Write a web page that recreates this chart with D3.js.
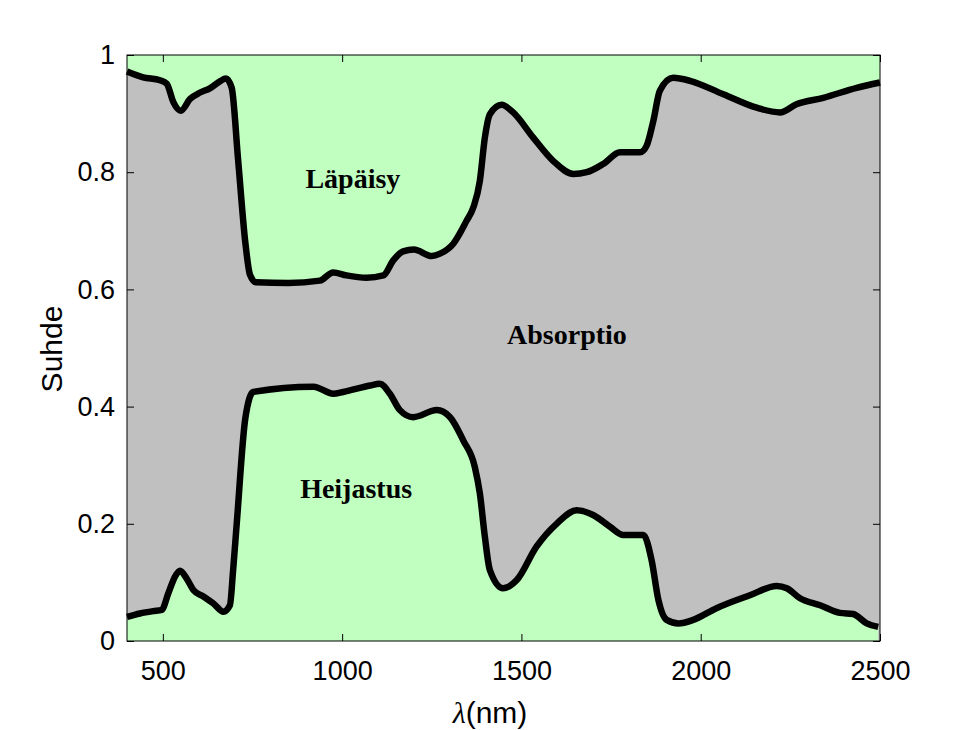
<!DOCTYPE html>
<html>
<head>
<meta charset="utf-8">
<script src="https://cdn.jsdelivr.net/npm/d3@7"></script>
<style>
  body { margin: 0; background: #fff; }
  svg text { fill: #000; }
</style>
</head>
<body>
<svg id="chart" width="973" height="730"></svg>
<script>
// upper boundary of the absorption band (1 - transmittance)
var upperNm  = [400, 445, 492, 511, 529, 550, 576, 604, 631, 659, 676, 692, 710, 730, 743, 760, 850, 938, 975, 1012, 1068, 1115, 1143, 1170, 1200, 1250, 1273, 1310, 1347, 1366, 1384, 1398, 1412, 1445, 1477, 1533, 1589, 1645, 1682, 1728, 1775, 1831, 1849, 1868, 1886, 1923, 1970, 2063, 2156, 2221, 2267, 2342, 2435, 2500];
var upperVal = [0.972, 0.962, 0.957, 0.951, 0.92, 0.905, 0.925, 0.936, 0.943, 0.955, 0.96, 0.944, 0.82, 0.68, 0.625, 0.612, 0.611, 0.615, 0.629, 0.624, 0.62, 0.624, 0.65, 0.665, 0.668, 0.657, 0.661, 0.678, 0.717, 0.74, 0.785, 0.859, 0.899, 0.915, 0.902, 0.859, 0.819, 0.797, 0.8, 0.814, 0.834, 0.834, 0.845, 0.888, 0.939, 0.961, 0.956, 0.933, 0.91, 0.902, 0.916, 0.927, 0.944, 0.953];

// reflectance
var lowerNm  = [400, 436, 473, 497, 515, 534, 548, 566, 585, 613, 641, 669, 687, 696, 706, 730, 752, 920, 975, 1003, 1078, 1105, 1133, 1161, 1198, 1264, 1301, 1338, 1370, 1384, 1398, 1412, 1449, 1487, 1542, 1598, 1654, 1700, 1747, 1784, 1840, 1863, 1882, 1905, 1938, 1979, 2044, 2137, 2212, 2240, 2277, 2333, 2388, 2425, 2463, 2495];
var lowerVal = [0.041, 0.047, 0.051, 0.053, 0.081, 0.11, 0.12, 0.107, 0.087, 0.076, 0.064, 0.05, 0.061, 0.121, 0.2, 0.38, 0.425, 0.434, 0.422, 0.425, 0.436, 0.439, 0.422, 0.394, 0.382, 0.394, 0.382, 0.342, 0.297, 0.252, 0.178, 0.121, 0.09, 0.104, 0.161, 0.2, 0.223, 0.215, 0.195, 0.181, 0.181, 0.138, 0.07, 0.036, 0.03, 0.036, 0.056, 0.078, 0.094, 0.09, 0.073, 0.061, 0.048, 0.046, 0.03, 0.024];

var xTicks = [500, 1000, 1500, 2000, 2500];
var yTicks = [0, 0.2, 0.4, 0.6, 0.8, 1];
var regionLabels = ["Läpäisy", "Absorptio", "Heijastus"];
var regionNm  = [1030, 1627, 1039];
var regionVal = [0.773, 0.506, 0.244];

var mLeft = 127, mTop = 55, mRight = 880, mBottom = 641;
var svg = d3.select("#chart");

var x = d3.scaleLinear().domain([400, 2500]).range([mLeft, mRight]);
var y = d3.scaleLinear().domain([0, 1]).range([mBottom, mTop]);

var upper = upperNm.map(function(n, i) { return [n, upperVal[i]]; });
var lower = lowerNm.map(function(n, i) { return [n, lowerVal[i]]; });

var curve = d3.curveMonotoneX;

svg.append("clipPath").attr("id", "plotclip")
  .append("rect").attr("x", mLeft).attr("y", mTop).attr("width", mRight-mLeft).attr("height", mBottom-mTop);

var g = svg.append("g").attr("clip-path", "url(#plotclip)");

// grey everywhere, then green above transmission line and below reflectance line
g.append("rect").attr("x", mLeft).attr("y", mTop).attr("width", mRight-mLeft).attr("height", mBottom-mTop)
  .attr("fill", "#c0c0c0");

g.append("path").datum(upper)
  .attr("fill", "#c0ffc0")
  .attr("d", d3.area().curve(curve).x(function(d) { return x(d[0]); }).y0(y(1)).y1(function(d) { return y(d[1]); }));
g.append("path").datum(lower)
  .attr("fill", "#c0ffc0")
  .attr("d", d3.area().curve(curve).x(function(d) { return x(d[0]); }).y0(y(0)).y1(function(d) { return y(d[1]); }));

var line = d3.line().curve(curve).x(function(d) { return x(d[0]); }).y(function(d) { return y(d[1]); });
[upper, lower].forEach(function(data) {
  svg.append("path").datum(data)
    .attr("fill", "none").attr("stroke", "#000").attr("stroke-width", 6.5)
    .attr("stroke-linejoin", "round")
    .attr("d", line);
});

// frame
svg.append("rect").attr("x", mLeft).attr("y", mTop).attr("width", mRight-mLeft).attr("height", mBottom-mTop)
  .attr("fill", "none").attr("stroke", "#000").attr("stroke-width", 1);

// axes, ticks pointing inward on all four sides
var tickFont = "Liberation Sans, Arial, sans-serif";
var xAxis = svg.append("g").attr("transform", "translate(0," + mBottom + ")")
  .call(d3.axisBottom(x).tickValues(xTicks).tickSizeInner(-7).tickSizeOuter(0).tickPadding(20).tickFormat(d3.format("d")));
var xTop = svg.append("g").attr("transform", "translate(0," + mTop + ")")
  .call(d3.axisTop(x).tickValues(xTicks).tickSizeInner(-7).tickSizeOuter(0).tickFormat(""));
var yAxis = svg.append("g").attr("transform", "translate(" + mLeft + ",0)")
  .call(d3.axisLeft(y).tickValues(yTicks).tickSizeInner(-7).tickSizeOuter(0).tickPadding(12).tickFormat(d3.format("~g")));
var yRight = svg.append("g").attr("transform", "translate(" + mRight + ",0)")
  .call(d3.axisRight(y).tickValues(yTicks).tickSizeInner(-7).tickSizeOuter(0).tickFormat(""));

[xAxis, xTop, yAxis, yRight].forEach(function(a) {
  a.select(".domain").remove();
  a.selectAll("line").attr("stroke", "#000");
  a.selectAll("text").attr("font-family", tickFont).attr("font-size", 27).attr("fill", "#000");
});

// axis titles
var xl = svg.append("text").attr("x", 490).attr("y", 723).attr("text-anchor", "middle")
  .attr("font-family", tickFont).attr("font-size", 30);
xl.append("tspan").attr("font-style", "italic").attr("font-family", "Liberation Serif, Times New Roman, serif").text("λ");
xl.append("tspan").text("(nm)");

svg.append("text").attr("transform", "translate(62,349) rotate(-90)").attr("text-anchor", "middle")
  .attr("font-family", tickFont).attr("font-size", 30).text("Suhde");

// region names
svg.selectAll(".region").data(regionLabels).enter().append("text")
  .attr("class", "region")
  .attr("x", function(d, i) { return x(regionNm[i]); })
  .attr("y", function(d, i) { return y(regionVal[i]); })
  .attr("text-anchor", "middle")
  .attr("font-family", "Liberation Serif, Times New Roman, serif")
  .attr("font-weight", "bold").attr("font-size", 28)
  .text(function(d) { return d; });
</script>
</body>
</html>
